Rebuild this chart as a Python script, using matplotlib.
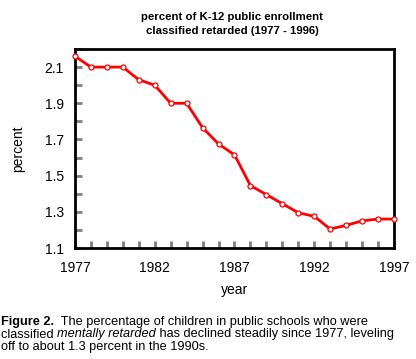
import matplotlib
matplotlib.use("Agg")
import matplotlib.pyplot as plt
from matplotlib.ticker import MultipleLocator

years = list(range(1977, 1998))
percent = [2.16, 2.10, 2.10, 2.10, 2.03, 2.00, 1.90, 1.90, 1.765, 1.675, 1.615,
           1.445, 1.395, 1.345, 1.295, 1.275, 1.205, 1.225, 1.25, 1.26, 1.26]
x_ticks = [1977, 1982, 1987, 1992, 1997]
y_ticks = [1.1, 1.3, 1.5, 1.7, 1.9, 2.1]
title = "percent of K-12 public enrollment\nclassified retarded (1977 - 1996)"

plt.rcParams['font.family'] = ['Liberation Sans', 'DejaVu Sans']

W, H = 416, 359
fig = plt.figure(figsize=(W / 100, H / 100), dpi=100)
ax = fig.add_axes([75 / W, 1 - 248 / H, (394 - 75) / W, (248 - 49) / H])

ax.plot(years, percent, color='#ff0000', lw=2.0, marker='o', ms=3.6,
        mfc='white', mec='#ff0000', mew=0.9, clip_on=False, zorder=5)

ax.set_xlim(1977, 1997)
ax.set_ylim(1.1, 2.2)
ax.set_xticks(x_ticks)
ax.set_yticks(y_ticks)
ax.set_yticklabels([f"{v:.1f}" for v in y_ticks])
ax.xaxis.set_minor_locator(MultipleLocator(1))
ax.yaxis.set_minor_locator(MultipleLocator(0.1))
ax.tick_params(which='both', direction='in', color='#808080', width=2, length=5,
               labelsize=10, labelcolor='black')
ax.tick_params(axis='x', which='major', pad=9)
ax.tick_params(axis='y', which='major', pad=8)
for s in ax.spines.values():
    s.set_linewidth(2)
    s.set_color('black')

ax.set_xlabel("year", fontsize=10, labelpad=6)
ax.set_ylabel("percent", fontsize=10, labelpad=14)

fig.text(232 / W, 1 - 24 / H, title, ha='center', va='center', fontsize=8.2,
         fontweight='bold', linespacing=1.4)

# caption with mixed styles
lines = [
    [("Figure 2.", 'bold', 'normal'),
     ("  The percentage of children in public schools who were", 'normal', 'normal')],
    [("classified ", 'normal', 'normal'), ("mentally retarded", 'normal', 'italic'),
     (" has declined steadily since 1977, leveling", 'normal', 'normal')],
    [("off to about 1.3 percent in the 1990s.", 'normal', 'normal')],
]
fig.canvas.draw()
renderer = fig.canvas.get_renderer()
ys = [322, 334.5, 347]
for line, yp in zip(lines, ys):
    xp = 1.0
    for txt, wt, st in line:
        t = fig.text(xp / W, 1 - yp / H, txt, ha='left', va='center', fontsize=9.2,
                     fontweight=wt, fontstyle=st)
        bb = t.get_window_extent(renderer=renderer)
        xp += bb.width

fig.savefig("out.png", dpi=100)
